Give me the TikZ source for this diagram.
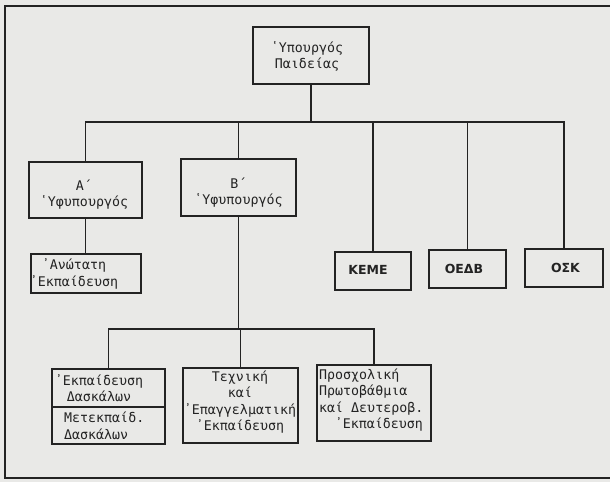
\documentclass[tikz,border=0pt]{standalone}
\usepackage{fontspec}
\newfontfamily\tw{DejaVu Sans Mono}
\newfontfamily\ks{DejaVu Sans}
\definecolor{paper}{RGB}{233,233,231}
\definecolor{ink}{RGB}{35,35,35}
\begin{document}
\begin{tikzpicture}[x=1pt,y=-1pt,
  box/.style={draw=ink, line width=1.6pt, inner sep=0pt},
  lbl/.style={font=\tw\fontsize{13.3}{16.5}\selectfont, text=ink, align=center, inner sep=0pt},
  abbr/.style={font=\ks\bfseries\fontsize{12.5}{14}\selectfont, text=ink, inner sep=0pt},
  wire/.style={draw=ink, line width=1.6pt}]
\useasboundingbox (0,0) rectangle (610,482);
\fill[paper] (0,0) rectangle (610,482);
\draw[ink, line width=2.4pt] (610,6) -- (5,6) -- (5,478) -- (610,478);

% boxes
\node[box, minimum width=116pt, minimum height=57pt] (top) at (311,55.5) {};
\node[box, minimum width=113pt, minimum height=56pt] (A) at (85.5,190) {};
\node[box, minimum width=115pt, minimum height=57pt] (B) at (238.5,187.5) {};
\node[box, minimum width=110pt, minimum height=39pt] (AN) at (86,273.5) {};
\node[box, minimum width=76pt, minimum height=38pt] (KEME) at (373,271) {};
\node[box, minimum width=77pt, minimum height=38pt] (OEDB) at (467.5,269) {};
\node[box, minimum width=78pt, minimum height=38pt] (OSK) at (564,268) {};
\node[box, minimum width=113pt, minimum height=38pt] (D1) at (108.5,388) {};
\node[box, minimum width=113pt, minimum height=37pt] (D2) at (108.5,425.5) {};
\node[box, minimum width=115pt, minimum height=75pt] (TE) at (240.5,405.5) {};
\node[box, minimum width=114pt, minimum height=76pt] (PR) at (374,403) {};

% texts
\node[lbl] (topT) at (307,56.5) {῾Υπουργός\\Παιδείας};
\node[lbl] (AT) at (84,194.5) {Α΄\\῾Υφυπουργός};
\node[lbl] (BT) at (238.5,192.5) {Β΄\\῾Υφυπουργός};
\node[lbl] (ANT) at (74,274) {᾿Ανώτατη\\᾿Εκπαίδευση};
\node[abbr] (KEMET) at (368,270) {ΚΕΜΕ};
\node[abbr] (OEDBT) at (464,269) {ΟΕΔΒ};
\node[abbr] (OSKT) at (565.5,268) {ΟΣΚ};
\node[lbl] (D1T) at (99,388) {᾿Εκπαίδευση\\Δασκάλων};
\node[lbl, align=left, anchor=west] (D2T) at (64,426) {Μετεκπαίδ.\\Δασκάλων};
\node[lbl] (TET) at (240,402) {Τεχνική\\καί\\᾿Επαγγελματική\\᾿Εκπαίδευση};
\node[lbl, align=left, anchor=west] (PRT) at (319,400) {Προσχολική\\Πρωτοβάθμια\\καί Δευτεροβ.\\\hspace*{15.6pt}᾿Εκπαίδευση};

% connectors
\coordinate (busU) at (0,122);
\coordinate (busL) at (0,329);
\draw[wire] (top.south) -- (top.south |- busU);
\draw[wire] (A.north) -- (A.north |- busU) -- (OSK.north |- busU) -- (OSK.north);
\foreach \n in {B,KEME,OEDB} \draw[wire] (\n.north |- busU) -- (\n.north);
\draw[wire] (A.south) -- (A.south |- AN.north);
\draw[wire] (B.south) -- (B.south |- busL);
\draw[wire] (D1.north) -- (D1.north |- busL) -- (PR.north |- busL) -- (PR.north);
\draw[wire] (TE.north |- busL) -- (TE.north);
\end{tikzpicture}
\end{document}
